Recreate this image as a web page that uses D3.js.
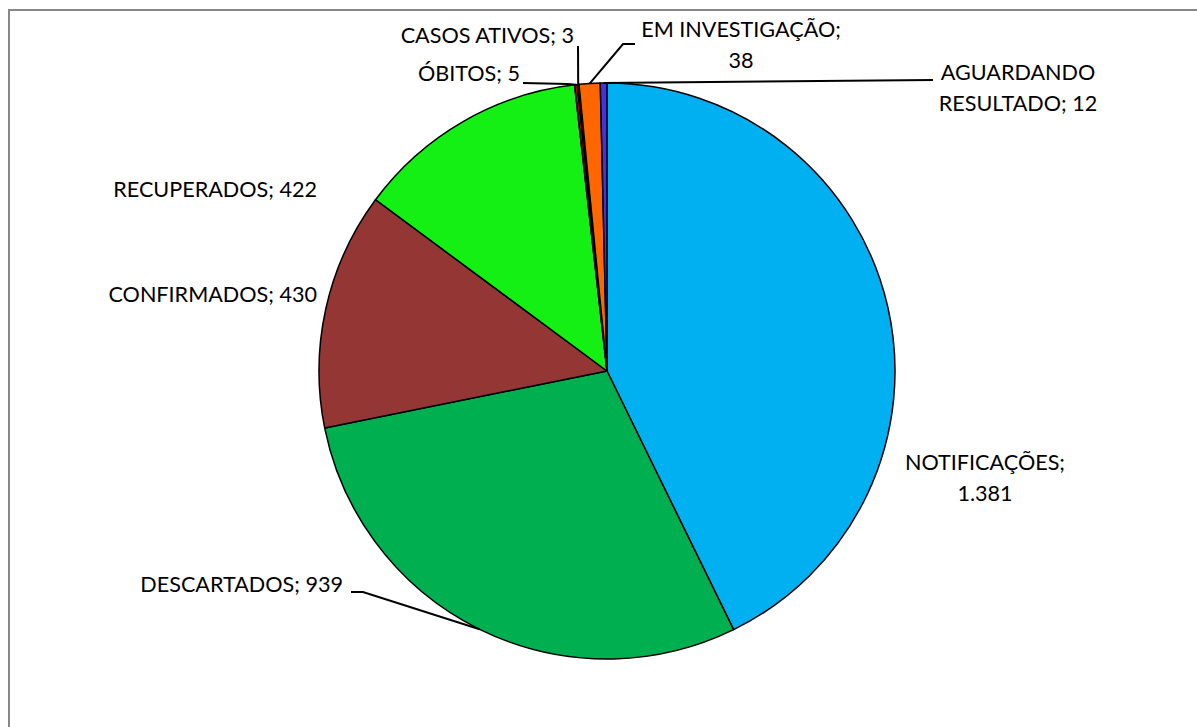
<!DOCTYPE html>
<html lang="pt">
<head>
<meta charset="UTF-8">
<title>Casos</title>
<script src="https://d3js.org/d3.v7.min.js"></script>
<style>
  html, body { margin: 0; padding: 0; background: #fff; }
  svg text { font-family: Lato, "Open Sans", sans-serif; font-size: 21.6px; fill: #000; }
</style>
</head>
<body>
<div id="chart"></div>
<script>
// Data
const categories = ["NOTIFICAÇÕES", "DESCARTADOS", "CONFIRMADOS", "RECUPERADOS",
                    "ÓBITOS", "CASOS ATIVOS", "EM INVESTIGAÇÃO", "AGUARDANDO RESULTADO"];
const values = [1381, 939, 430, 422, 5, 3, 38, 12];
const valueLabels = ["1.381", "939", "430", "422", "5", "3", "38", "12"];
const colors = ["#00B0F0", "#00B050", "#943634", "#14F014",
                "#C00000", "#1a1a1a", "#FF6600", "#4433DD"];

// Label layout: text lines, anchor point and leader line elbow (if any)
const labelLayout = [
  { lines: ["NOTIFICAÇÕES;", "1.381"], x: 985, y: 470, anchor: "middle" },
  { lines: ["DESCARTADOS; 939"], x: 343, y: 592, anchor: "end", leader: [[351, 592], [363, 592]] },
  { lines: ["CONFIRMADOS; 430"], x: 317, y: 302, anchor: "end" },
  { lines: ["RECUPERADOS; 422"], x: 317, y: 197, anchor: "end" },
  { lines: ["ÓBITOS; 5"], x: 520, y: 81, anchor: "end", leader: [[523, 83], [568, 84]] },
  { lines: ["CASOS ATIVOS; 3"], x: 574, y: 43, anchor: "end", leader: [[578, 46]] },
  { lines: ["EM INVESTIGAÇÃO;", "38"], x: 741, y: 37, anchor: "middle", leader: [[635, 44], [623, 44]] },
  { lines: ["AGUARDANDO", "RESULTADO; 12"], x: 1018, y: 80, anchor: "middle", leader: [[933, 80]] }
];

const W = 1197, H = 727;
const cx = 607, cy = 371, radius = 288;
const lineH = 31;

const svg = d3.select("#chart").append("svg")
  .attr("width", W).attr("height", H);

// chart frame
svg.append("rect")
  .attr("x", 9).attr("y", 10)
  .attr("width", W + 20).attr("height", H + 20)
  .attr("fill", "#fff")
  .attr("stroke", "#888").attr("stroke-width", 2);

const data = categories.map((c, i) => ({ name: c, value: values[i], color: colors[i], label: labelLayout[i] }));

const pie = d3.pie().value(d => d.value).sort(null);
const arc = d3.arc().innerRadius(0).outerRadius(radius);
const arcs = pie(data);

const g = svg.append("g").attr("transform", `translate(${cx},${cy})`);

g.selectAll("path.slice")
  .data(arcs)
  .join("path")
  .attr("class", "slice")
  .attr("d", arc)
  .attr("fill", d => d.data.color)
  .attr("stroke", "#000")
  .attr("stroke-width", 1.5)
  .attr("stroke-linejoin", "round");

// leader lines from slice edge midpoint to label
arcs.forEach(a => {
  const lay = a.data.label;
  if (!lay.leader) return;
  const mid = (a.startAngle + a.endAngle) / 2;
  const ex = cx + radius * Math.sin(mid);
  const ey = cy - radius * Math.cos(mid);
  const pts = lay.leader.concat([[ex, ey]]);
  svg.append("path")
    .attr("d", d3.line()(pts))
    .attr("fill", "none")
    .attr("stroke", "#000")
    .attr("stroke-width", 2);
});

// labels
labelLayout.forEach(lay => {
  const t = svg.append("text")
    .attr("text-anchor", lay.anchor)
    .attr("x", lay.x).attr("y", lay.y);
  lay.lines.forEach((ln, i) => {
    t.append("tspan").attr("x", lay.x).attr("dy", i === 0 ? 0 : lineH).text(ln);
  });
});
</script>
</body>
</html>
